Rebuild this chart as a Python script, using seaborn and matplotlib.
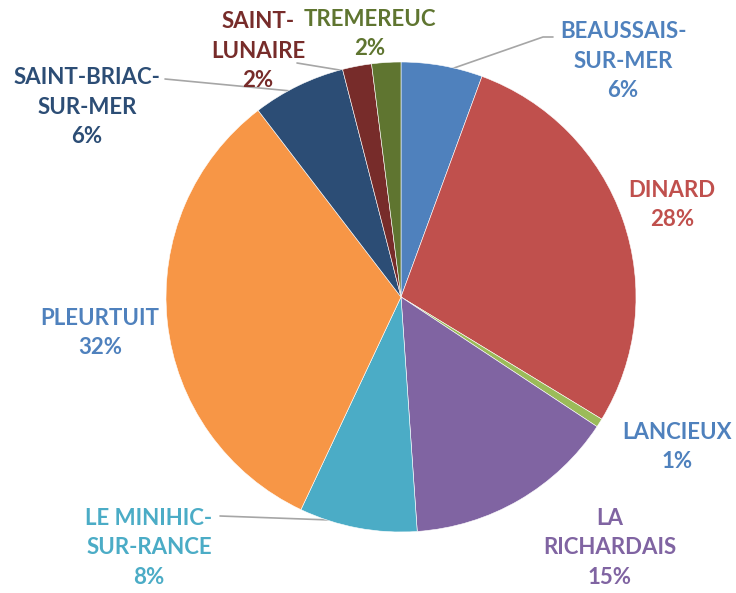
import numpy as np
import matplotlib
matplotlib.use('Agg')
import matplotlib.pyplot as plt
import seaborn as sns

sns.set_theme(style='white')
plt.rcParams['font.family'] = ['Lato', 'DejaVu Sans']

# Data (share of total, %)
communes = ['BEAUSSAIS-\nSUR-MER', 'DINARD', 'LANCIEUX', 'LA\nRICHARDAIS',
            'LE MINIHIC-\nSUR-RANCE', 'PLEURTUIT', 'SAINT-BRIAC-\nSUR-MER',
            'SAINT-\nLUNAIRE', 'TREMEREUC']
shares = [5.6, 28.1, 0.6, 14.6, 8.1, 32.6, 6.4, 2.0, 2.0]
pct_labels = ['6%', '28%', '1%', '15%', '8%', '32%', '6%', '2%', '2%']

wedge_colors = ['#4F81BD', '#C0504D', '#9BBB59', '#8064A2', '#4BACC6',
                '#F79646', '#2C4D75', '#772C2A', '#5F7530']
text_colors = ['#4F81BD', '#C0504D', '#4F81BD', '#8064A2', '#4BACC6',
               '#4F81BD', '#2C4D75', '#772C2A', '#5F7530']

# label placement (pixel layout, y from top)
label_pos = [(623, 61), (672, 205), (677, 447), (610, 548), (149, 548),
             (100, 333), (87, 107), (258, 51), (370, 34)]
# leader lines: elbow point near the label
leaders = {0: [(553, 37), (543, 37)], 4: [(220, 516)], 6: [(165, 79)], 7: [(297, 63)]}

W, H = 736, 593
cx, cy, r = 401, 297, 235

fig = plt.figure(figsize=(W / 100, H / 100), dpi=100)
ax = fig.add_axes([0, 0, 1, 1])

wedges, _ = ax.pie(shares, colors=wedge_colors, startangle=90, counterclock=False,
                   center=(cx, H - cy), radius=r,
                   wedgeprops=dict(edgecolor='white', linewidth=0.4))
ax.set_xlim(0, W)
ax.set_ylim(0, H)
ax.set_aspect('equal')
ax.axis('off')

for i, w in enumerate(wedges):
    x, y = label_pos[i]
    ax.text(x, H - y, communes[i] + '\n' + pct_labels[i], ha='center', va='center',
            color=text_colors[i], fontsize=16, fontweight='bold', linespacing=1.5)
    if i in leaders:
        mid = np.deg2rad((w.theta1 + w.theta2) / 2)
        sx = cx + r * 0.97 * np.cos(mid)
        sy = (H - cy) + r * 0.97 * np.sin(mid)
        pts = [(sx, sy)] + [(px, H - py) for px, py in reversed(leaders[i])]
        xs, ys = zip(*pts)
        ax.plot(xs, ys, color='#A6A6A6', linewidth=1.2, zorder=0.5)

fig.savefig('out.png', dpi=100)
